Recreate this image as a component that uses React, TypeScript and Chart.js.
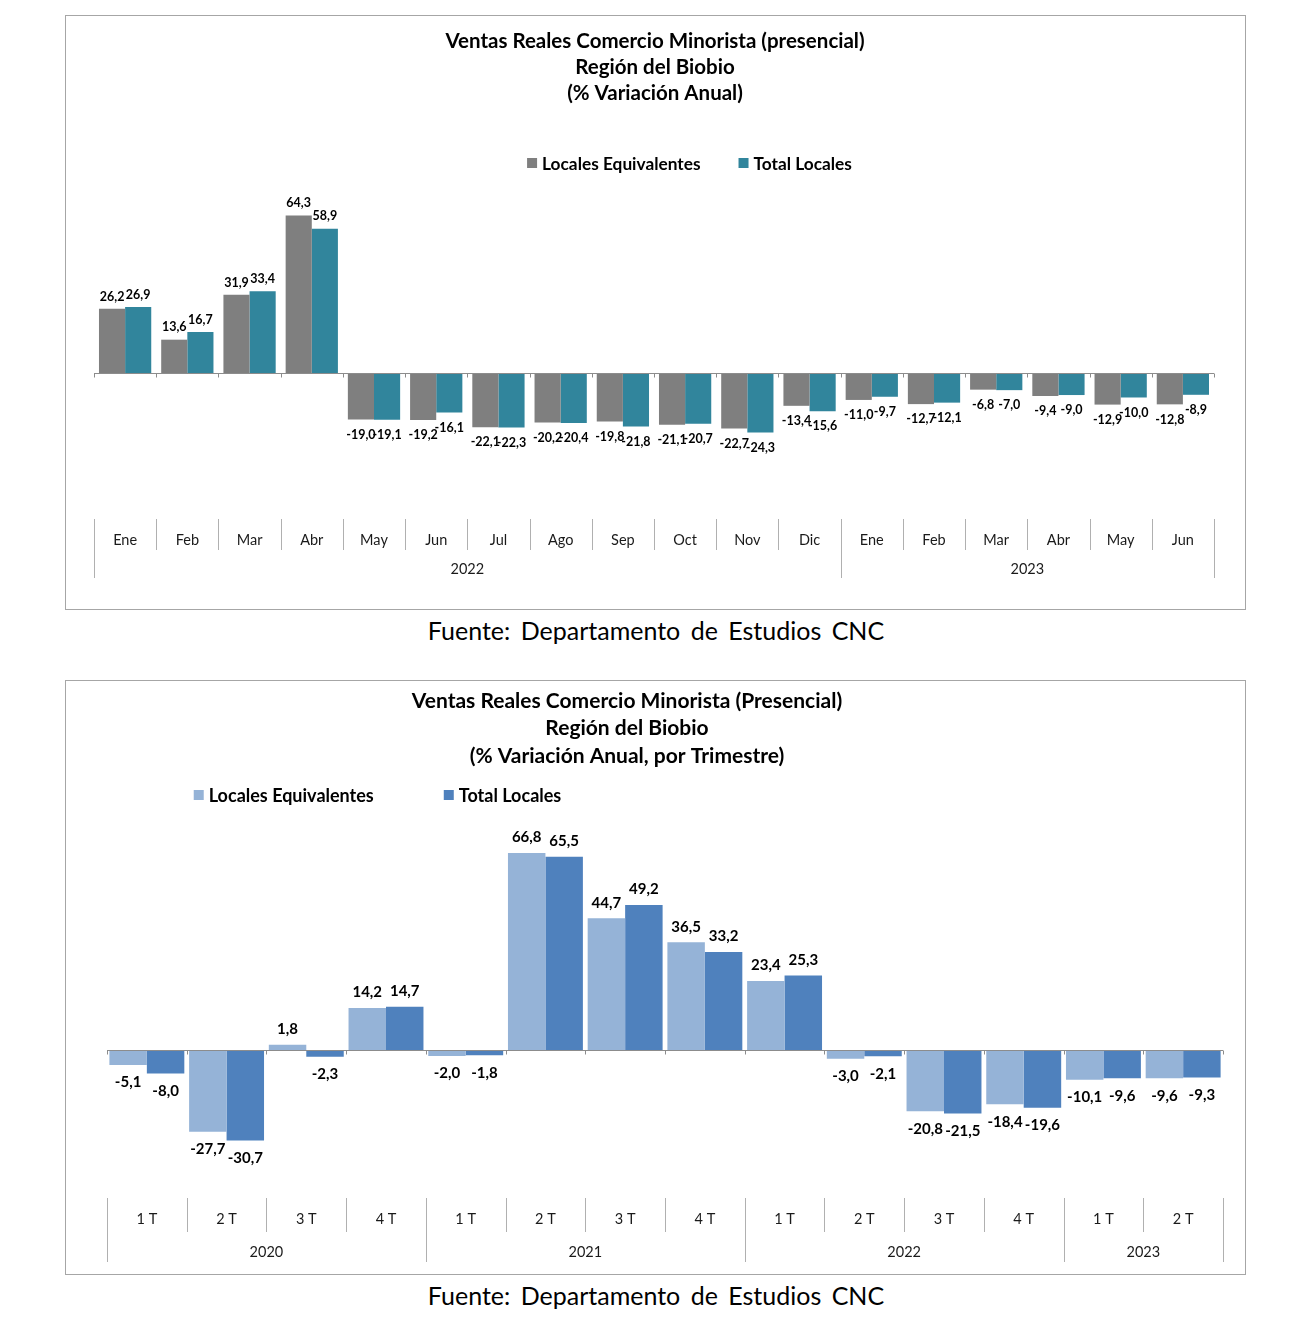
import React, { useEffect, useRef } from 'react';
import { Chart, registerables } from 'chart.js';

Chart.register(...registerables);

// ---------- Data: monthly chart ----------
const monthLabels = ['Ene', 'Feb', 'Mar', 'Abr', 'May', 'Jun', 'Jul', 'Ago', 'Sep', 'Oct', 'Nov', 'Dic', 'Ene', 'Feb', 'Mar', 'Abr', 'May', 'Jun'];
const monthGroups = ['2022', '2023'];
const monthGroupSpans = [12, 6];
const monthlyEquivalentes = [26.2, 13.6, 31.9, 64.3, -19.0, -19.2, -22.1, -20.2, -19.8, -21.1, -22.7, -13.4, -11.0, -12.7, -6.8, -9.4, -12.9, -12.8];
const monthlyTotal = [26.9, 16.7, 33.4, 58.9, -19.1, -16.1, -22.3, -20.4, -21.8, -20.7, -24.3, -15.6, -9.7, -12.1, -7.0, -9.0, -10.0, -8.9];
const monthlyTitle = ['Ventas Reales Comercio Minorista (presencial)', 'Región del Biobio', '(% Variación Anual)'];

// ---------- Data: quarterly chart ----------
const quarterLabels = ['1 T', '2 T', '3 T', '4 T', '1 T', '2 T', '3 T', '4 T', '1 T', '2 T', '3 T', '4 T', '1 T', '2 T'];
const quarterGroups = ['2020', '2021', '2022', '2023'];
const quarterGroupSpans = [4, 4, 4, 2];
const quarterlyEquivalentes = [-5.1, -27.7, 1.8, 14.2, -2.0, 66.8, 44.7, 36.5, 23.4, -3.0, -20.8, -18.4, -10.1, -9.6];
const quarterlyTotal = [-8.0, -30.7, -2.3, 14.7, -1.8, 65.5, 49.2, 33.2, 25.3, -2.1, -21.5, -19.6, -9.6, -9.3];
const quarterlyTitle = ['Ventas Reales Comercio Minorista (Presencial)', 'Región del Biobio', '(% Variación Anual, por Trimestre)'];

const seriesNames = ['Locales Equivalentes', 'Total Locales'];
const sourceText = 'Fuente: Departamento de Estudios CNC';

const FONT = 'Lato, "Open Sans", "DejaVu Sans", sans-serif';

type Decor = {
  titleLines: string[];
  titleFont: string;
  titleX: number;
  titleY0: number;
  titleStep: number;
  legendFont: string;
  legendCenterX: number;
  legendY: number;
  legendGap: number;
  valueFont: string;
  upOffset: number;
  downOffset: number;
  catLabels: string[];
  groups: string[];
  groupSpans: number[];
  catLabelY: number;
  groupLabelY: number;
  shortSepBottom: number;
  longSepBottom: number;
  axisFont: string;
};

const fmt = (v: number) => v.toFixed(1).replace('.', ',');

function makeDecorPlugin(d: Decor) {
  return {
    id: 'decor',
    afterDatasetsDraw(chart: any) {
      const ctx = chart.ctx as CanvasRenderingContext2D;
      const { chartArea } = chart;
      const x = chart.scales.x;
      const y = chart.scales.y;
      const y0 = Math.round(y.getPixelForValue(0)) + 0.5;
      const half = (x.getPixelForValue(1) - x.getPixelForValue(0)) / 2;
      // zero axis line with small tick marks at category boundaries
      ctx.save();
      ctx.strokeStyle = '#8c8c8c';
      ctx.lineWidth = 1;
      ctx.beginPath();
      ctx.moveTo(chartArea.left, y0);
      ctx.lineTo(chartArea.right, y0);
      for (let i = 0; i <= d.catLabels.length; i++) {
        const bx = Math.round(x.getPixelForValue(i) - half) + 0.5;
        ctx.moveTo(bx, y0);
        ctx.lineTo(bx, y0 + 4);
      }
      ctx.stroke();
      ctx.restore();

      // value labels
      ctx.save();
      ctx.font = d.valueFont;
      ctx.fillStyle = '#000';
      ctx.textAlign = 'center';
      chart.data.datasets.forEach((ds: any, di: number) => {
        const meta = chart.getDatasetMeta(di);
        meta.data.forEach((bar: any, i: number) => {
          const v = ds.data[i] as number;
          if (v >= 0) {
            ctx.textBaseline = 'bottom';
            ctx.fillText(fmt(v), bar.x, bar.y - d.upOffset);
          } else {
            ctx.textBaseline = 'top';
            ctx.fillText(fmt(v), bar.x, bar.y + d.downOffset);
          }
        });
      });
      ctx.restore();
    },
    afterDraw(chart: any) {
      const ctx = chart.ctx as CanvasRenderingContext2D;
      const { chartArea } = chart;
      const x = chart.scales.x;
      const half = (x.getPixelForValue(1) - x.getPixelForValue(0)) / 2;
      ctx.save();
      // title
      ctx.font = d.titleFont;
      ctx.fillStyle = '#000';
      ctx.textAlign = 'center';
      ctx.textBaseline = 'middle';
      d.titleLines.forEach((t, i) => ctx.fillText(t, d.titleX, d.titleY0 + i * d.titleStep));

      // legend
      ctx.font = d.legendFont;
      ctx.textAlign = 'left';
      const box = 10;
      const items = chart.data.datasets.map((ds: any) => ({
        label: ds.label as string,
        color: ds.backgroundColor as string,
        w: box + 5 + ctx.measureText(ds.label).width,
      }));
      const total = items.reduce((s: number, it: any) => s + it.w, 0) + d.legendGap * (items.length - 1);
      let lx = d.legendCenterX - total / 2;
      items.forEach((it: any) => {
        ctx.fillStyle = it.color;
        ctx.fillRect(lx, d.legendY - box / 2, box, box);
        ctx.fillStyle = '#000';
        ctx.fillText(it.label, lx + box + 5, d.legendY + 1);
        lx += it.w + d.legendGap;
      });

      // category axis (two-level)
      const top = chartArea.bottom;
      ctx.strokeStyle = '#b0b0b0';
      ctx.lineWidth = 1;
      ctx.beginPath();
      const longIdx = new Set<number>([0]);
      let acc = 0;
      d.groupSpans.forEach((s) => {
        acc += s;
        longIdx.add(acc);
      });
      for (let i = 0; i <= d.catLabels.length; i++) {
        const bx = Math.round(x.getPixelForValue(i) - half) + 0.5;
        ctx.moveTo(bx, top);
        ctx.lineTo(bx, longIdx.has(i) ? d.longSepBottom : d.shortSepBottom);
      }
      ctx.stroke();

      ctx.font = d.axisFont;
      ctx.fillStyle = '#1a1a1a';
      ctx.textAlign = 'center';
      ctx.textBaseline = 'middle';
      d.catLabels.forEach((lab, i) => ctx.fillText(lab, x.getPixelForValue(i), d.catLabelY));
      let start = 0;
      d.groups.forEach((g, gi) => {
        const end = start + d.groupSpans[gi] - 1;
        const cx = (x.getPixelForValue(start) + x.getPixelForValue(end)) / 2;
        ctx.fillText(g, cx, d.groupLabelY);
        start = end + 1;
      });
      ctx.restore();
    },
  };
}

type ChartProps = {
  labels: string[];
  a: number[];
  b: number[];
  colors: [string, string];
  catPct: number;
  yMin: number;
  yMax: number;
  padding: { left: number; right: number; top: number; bottom: number };
  decor: Decor;
};

const CW = 1179;
const CH = 593;

function BarBox(p: ChartProps) {
  const ref = useRef<HTMLCanvasElement | null>(null);
  useEffect(() => {
    if (!ref.current) return;
    const chart = new Chart(ref.current, {
      type: 'bar',
      data: {
        labels: p.labels,
        datasets: [
          { label: seriesNames[0], data: p.a, backgroundColor: p.colors[0], borderWidth: 0, categoryPercentage: p.catPct, barPercentage: 1 },
          { label: seriesNames[1], data: p.b, backgroundColor: p.colors[1], borderWidth: 0, categoryPercentage: p.catPct, barPercentage: 1 },
        ],
      },
      options: {
        responsive: false,
        animation: false,
        events: [],
        layout: { padding: p.padding },
        scales: {
          x: { display: false, offset: true, grid: { display: false } },
          y: { display: false, min: p.yMin, max: p.yMax, grid: { display: false } },
        },
        plugins: {
          legend: { display: false },
          title: { display: false },
          tooltip: { enabled: false },
        },
      },
      plugins: [makeDecorPlugin(p.decor) as any],
    });
    return () => chart.destroy();
  }, []);
  return <canvas ref={ref} width={CW} height={CH} style={{ width: CW, height: CH, display: 'block' }} />;
}

const boxStyle = (top: number): React.CSSProperties => ({
  position: 'absolute',
  left: 65,
  top,
  width: 1181,
  height: 595,
  border: '1px solid #a6a6a6',
  boxSizing: 'border-box',
  background: '#fff',
});

const sourceStyle = (top: number): React.CSSProperties => ({
  position: 'absolute',
  left: 0,
  width: 1312,
  top,
  textAlign: 'center',
  fontFamily: FONT,
  fontSize: 25,
  lineHeight: '30px',
  wordSpacing: 4,
  color: '#000',
});

export default function App() {
  return (
    <div style={{ position: 'absolute', left: 0, top: 0, width: 1300, height: 1323, background: '#fff', overflow: 'hidden' }}>
      <div style={boxStyle(15)}>
        <BarBox
          labels={monthLabels}
          a={monthlyEquivalentes}
          b={monthlyTotal}
          colors={['#7f7f7f', '#31859c']}
          catPct={0.84}
          yMin={-59.6}
          yMax={74.7}
          padding={{ left: 28, right: 31, top: 174, bottom: 90 }}
          decor={{
            titleLines: monthlyTitle,
            titleFont: `bold 20.5px ${FONT}`,
            titleX: 589,
            titleY0: 25,
            titleStep: 26,
            legendFont: `bold 17.3px ${FONT}`,
            legendCenterX: 623.5,
            legendY: 147,
            legendGap: 38,
            valueFont: `bold 12.5px ${FONT}`,
            upOffset: 6,
            downOffset: 9,
            catLabels: monthLabels,
            groups: monthGroups,
            groupSpans: monthGroupSpans,
            catLabelY: 524,
            groupLabelY: 553,
            shortSepBottom: 534,
            longSepBottom: 562,
            axisFont: `14.5px ${FONT}`,
          }}
        />
      </div>
      <div style={sourceStyle(615)}>{sourceText}</div>

      <div style={boxStyle(680)}>
        <BarBox
          labels={quarterLabels}
          a={quarterlyEquivalentes}
          b={quarterlyTotal}
          colors={['#95b3d7', '#4f81bd']}
          catPct={0.94}
          yMin={-50.2}
          yMax={78.0}
          padding={{ left: 41, right: 22, top: 139, bottom: 76 }}
          decor={{
            titleLines: quarterlyTitle,
            titleFont: `bold 21px ${FONT}`,
            titleX: 561,
            titleY0: 20,
            titleStep: 27.5,
            legendFont: `bold 18px ${FONT}`,
            legendCenterX: 311.5,
            legendY: 114,
            legendGap: 70,
            valueFont: `bold 15px ${FONT}`,
            upOffset: 8,
            downOffset: 10,
            catLabels: quarterLabels,
            groups: quarterGroups,
            groupSpans: quarterGroupSpans,
            catLabelY: 538,
            groupLabelY: 571,
            shortSepBottom: 551,
            longSepBottom: 581,
            axisFont: `14.5px ${FONT}`,
          }}
        />
      </div>
      <div style={sourceStyle(1280)}>{sourceText}</div>
    </div>
  );
}
